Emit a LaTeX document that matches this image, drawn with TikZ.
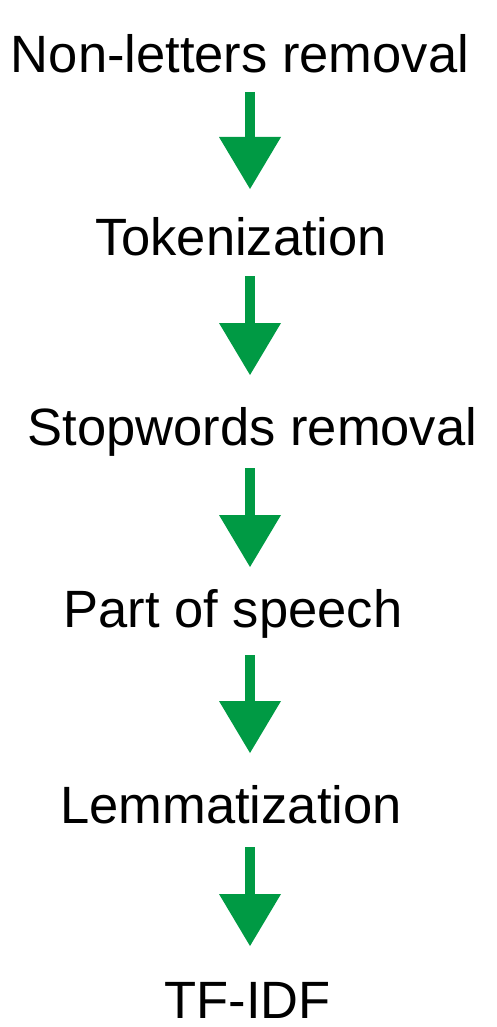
\documentclass[tikz,border=0pt]{standalone}
\usepackage{fontspec}
\setmainfont{Liberation Sans}
\usetikzlibrary{arrows.meta, positioning}
\definecolor{cGreen}{RGB}{0,154,68}
\tikzset{
	steplabel/.style={anchor=base, inner sep=0pt, font=\fontsize{52.5}{60}\selectfont},
	blockarrow/.style={draw=cGreen, line width=10pt, -{Triangle[length=52pt, width=62pt, line width=0pt, fill=cGreen]}},
}

\begin{document}
\begin{tikzpicture}[x=1pt, y=1pt]
	\useasboundingbox (0,0) rectangle (496,-1027);
	% pipeline steps
	\foreach \i/\x/\y/\lab in {
		1/240/73/{Non-letters removal},
		2/241/255/{Tokenization},
		3/252.5/445/{Stopwords removal},
		4/233/627/{Part of speech},
		5/231/823/{Lemmatization},
		6/247.5/1018/{TF-IDF}} {
		\node[steplabel] (s\i) at (\x,-\y) {\lab};
	}
	% arrows between steps
	\foreach \i/\ys/\ye in {1/92/189, 2/276/375, 3/468/567, 4/655/753, 5/847/946} {
		\coordinate (a\i) at (250,-\ys);
		\coordinate (b\i) at (250,-\ye);
		\draw[blockarrow] (a\i) -- (b\i);
	}
\end{tikzpicture}
\end{document}
